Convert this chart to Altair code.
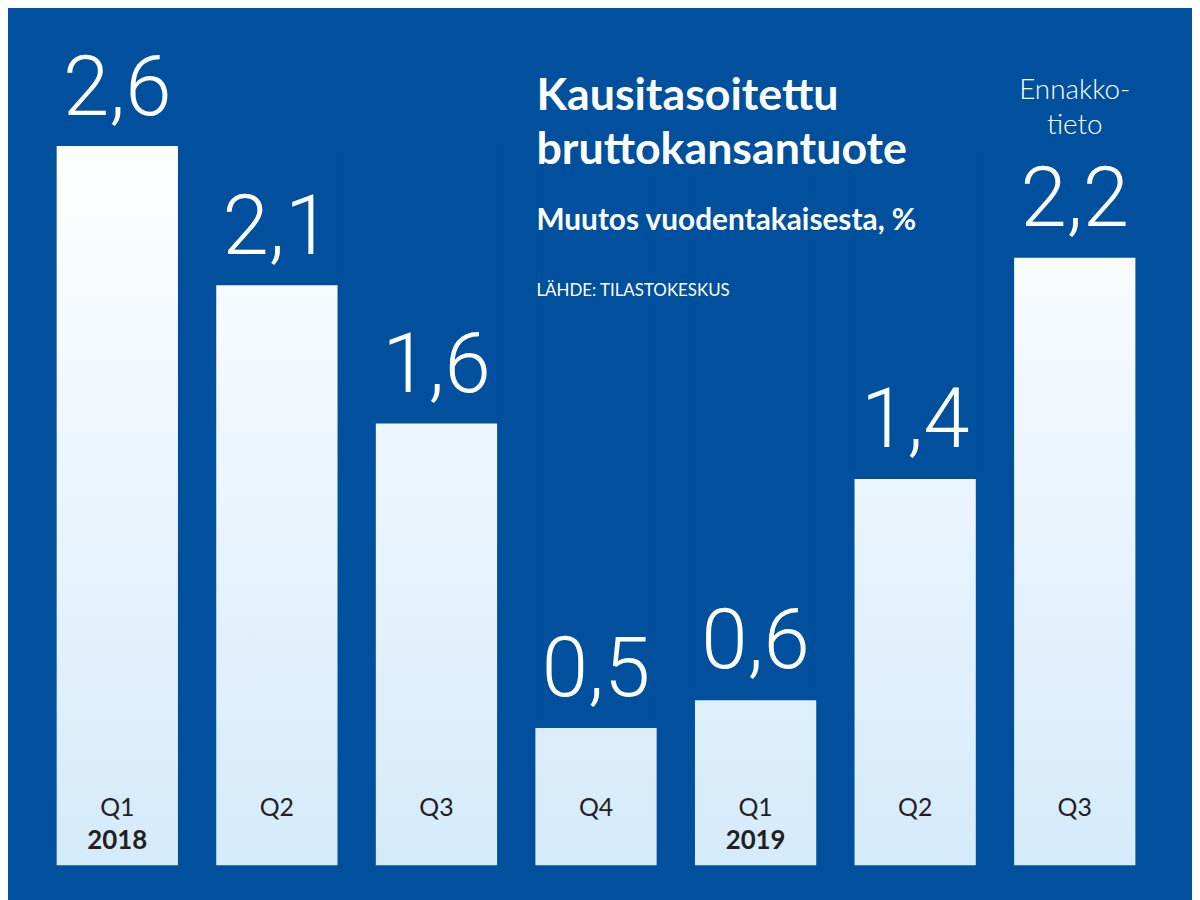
import altair as alt
import pandas as pd

# ---- data ----
keys = ["2018Q1", "2018Q2", "2018Q3", "2018Q4", "2019Q1", "2019Q2", "2019Q3"]
quarters = ["Q1", "Q2", "Q3", "Q4", "Q1", "Q2", "Q3"]
years = ["2018", "", "", "", "2019", "", ""]
values = [2.6, 2.1, 1.6, 0.5, 0.6, 1.4, 2.2]
notes1 = ["", "", "", "", "", "", "Ennakko-"]
notes2 = ["", "", "", "", "", "", "tieto"]

title1 = "Kausitasoitettu"
title2 = "bruttokansantuote"
subtitle = "Muutos vuodentakaisesta, %"
source = "LÄHDE: TILASTOKESKUS"

BG = "#00509d"

df = pd.DataFrame({
    "key": keys, "quarter": quarters, "year": years, "value": values,
    "note1": notes1, "note2": notes2,
})

x = alt.X("key:N", sort=keys, axis=None,
          scale=alt.Scale(range=[49, 1135], paddingInner=0.24, paddingOuter=0))
yscale = alt.Scale(domain=[0, 3.088], range=[860, 0])

base = alt.Chart(df).transform_joinaggregate(vmax="max(value)").transform_calculate(
    label="replace(format(datum.value, '.1f'), '.', ',')"
)

grad = alt.Gradient(
    gradient="linear",
    stops=[alt.GradientStop(color="#ffffff", offset=0),
           alt.GradientStop(color="#d5eafa", offset=1)],
    x1=0, x2=0, y1=0, y2=1,
)

# full-height gradient columns (shared gradient for all bars)
cols = base.mark_bar(color=grad).encode(
    x=x,
    y=alt.Y("zero:Q", scale=yscale, axis=None),
    y2="vmax:Q",
).transform_calculate(zero="0")

# mask above each bar's value
mask = base.mark_bar(color=BG, stroke=BG, strokeWidth=2).encode(
    x=x,
    y=alt.Y("value:Q", scale=yscale, axis=None),
    y2="vmax:Q",
).transform_filter("datum.value < datum.vmax")

vals = base.mark_text(
    font="Roboto", fontWeight=300, fontSize=84, color="white",
    baseline="alphabetic", dy=-31,
).encode(x=x, y=alt.Y("value:Q", scale=yscale, axis=None), text="label:N")

qlab = base.mark_text(
    font="Lato", fontSize=25, color="#231f20", baseline="alphabetic",
).encode(x=x, y=alt.value(810), text="quarter:N")

ylab = base.mark_text(
    font="Lato", fontWeight="bold", fontSize=26, color="#231f20", baseline="alphabetic",
).encode(x=x, y=alt.value(844), text="year:N")

n1 = base.mark_text(
    font="Lato", fontWeight=300, fontSize=28, color="white", baseline="alphabetic",
).encode(x=x, y=alt.value(89), text="note1:N")
n2 = base.mark_text(
    font="Lato", fontWeight=300, fontSize=28, color="white", baseline="alphabetic",
).encode(x=x, y=alt.value(124), text="note2:N")

tdf = pd.DataFrame({"t": [0]})
def txt(s, y, size, weight):
    return alt.Chart(tdf).mark_text(
        text=s, font="Lato", fontSize=size, fontWeight=weight, color="white",
        align="left", baseline="alphabetic",
    ).encode(x=alt.value(532), y=alt.value(y))

t1 = txt(title1, 100, 45, "bold")
t2 = txt(title2, 154, 45, "bold")
t3 = txt(subtitle, 220, 30, "bold")
t4 = txt(source, 287, 17, "normal")

chart = alt.layer(cols, mask, vals, qlab, ylab, n1, n2, t1, t2, t3, t4).properties(
    width=1192, height=892,
    autosize=alt.AutoSizeParams(type="none"),
    padding=0,
    background=BG,
).configure_view(stroke=None)

chart.save("out.html", embed_options={"renderer": "svg", "actions": False})
